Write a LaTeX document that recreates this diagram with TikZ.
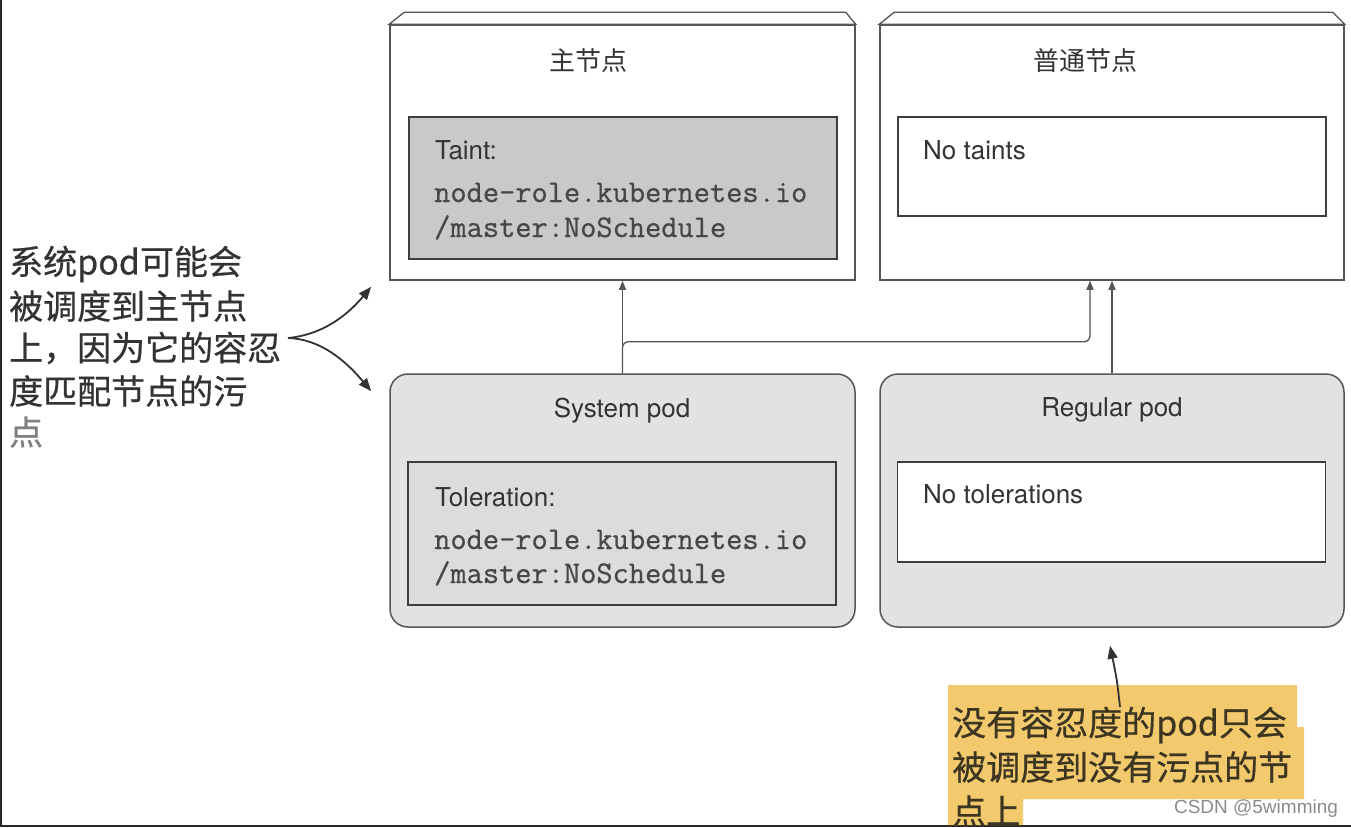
\documentclass[tikz,border=0pt]{standalone}
\usepackage{fontspec}
\setmainfont{TeX Gyre Heros}
\newfontfamily\cjk{Noto Sans CJK SC}
\newfontfamily\cjkb{Noto Sans CJK SC}[FakeBold=0.6]
\newfontfamily\monob{Latin Modern Mono}[FakeBold=0.7]
\newfontfamily\wmfont{Liberation Sans}
\usetikzlibrary{arrows.meta,calc}
\definecolor{boxc}{HTML}{555555}
\definecolor{innerc}{HTML}{3E3E3E}
\definecolor{textc}{HTML}{333333}
\definecolor{notec}{HTML}{333333}
\definecolor{taintfill}{HTML}{C9C9C9}
\definecolor{podfill}{HTML}{E2E2E2}
\definecolor{tolfill}{HTML}{DCDCDC}
\definecolor{hlc}{HTML}{F2C96C}
\definecolor{hltext}{HTML}{3B3522}
\definecolor{connc}{HTML}{555555}
\begin{document}
\begin{tikzpicture}[x=1pt,y=-1pt,
  outerbox/.style={draw=boxc, line width=1.5pt, fill=white, minimum width=465pt, minimum height=255pt, inner sep=0pt},
  podbox/.style={draw=boxc, line width=1.5pt, fill=podfill, rounded corners=18pt, minimum width=465pt, minimum height=253pt, inner sep=0pt},
  innerbox/.style={draw=innerc, line width=1.8pt, minimum width=428pt, inner sep=0pt},
  lbl/.style={inner sep=0pt, text=textc, font=\fontsize{26}{30}\selectfont},
  mono/.style={inner sep=0pt, text=textc!90, font=\monob\fontsize{31.5}{34}\selectfont},
  cjktitle/.style={inner sep=0pt, text=textc, font=\cjk\fontsize{26}{30}\selectfont},
  notetext/.style={inner sep=0pt, anchor=west, text=notec, font=\cjkb\fontsize{34}{42}\selectfont},
  hltextstyle/.style={inner sep=0pt, anchor=west, text=hltext, font=\cjkb\fontsize{34}{42}\selectfont},
  conn/.style={draw=connc, line width=1.3pt, -{Triangle[length=9pt,width=7pt]}},
  notearr/.style={draw=textc, line width=1.8pt, -{Triangle[length=13pt,width=10pt]}}
]
\useasboundingbox (0,0) rectangle (1351,827);
\fill[white] (0,0) rectangle (1351,827);
% screenshot edges
\fill[black!85] (0,0) rectangle (2,827);
\fill[black!85] (0,825) rectangle (1351,827);

% master node
\node[outerbox] (master) at (622.5,152.5) {};
\draw[boxc, line width=1.3pt, fill=white] (master.north west) -- ++(15,-12) -- ($(master.north east)+(-10,-12)$) -- (master.north east) -- cycle;
\node[innerbox, fill=taintfill, minimum height=142pt] (masterin) at (623,188) {};
\node[cjktitle] (mastert) at (588,61) {主节点};
\node[lbl, anchor=base west] (taint) at (435,159) {Taint:};
\node[mono, anchor=base west] (taint1) at (434,202) {node-role.kubernetes.io};
\node[mono, anchor=base west] (taint2) at (434,237) {/master:NoSchedule};

% worker node
\node[outerbox, minimum width=464pt] (worker) at (1112,152.5) {};
\draw[boxc, line width=1.3pt, fill=white] (worker.north west) -- ++(15,-12) -- ($(worker.north east)+(-12,-12)$) -- (worker.north east) -- cycle;
\node[innerbox, fill=white, minimum height=99pt] (workerin) at (1112,166.5) {};
\node[cjktitle] (workert) at (1085,61) {普通节点};
\node[lbl, anchor=base west] (notaints) at (923,159) {No taints};

% system pod
\node[podbox] (syspod) at (622.5,500.5) {};
\node[innerbox, fill=tolfill, minimum height=143pt] (syspodin) at (622,533.5) {};
\node[lbl, anchor=base] (syst) at (622,417) {System pod};
\node[lbl, anchor=base west] (tol) at (435,506) {Toleration:};
\node[mono, anchor=base west] (tol1) at (434,549) {node-role.kubernetes.io};
\node[mono, anchor=base west] (tol2) at (434,583) {/master:NoSchedule};

% regular pod
\node[podbox, minimum width=464pt] (regpod) at (1112,500.5) {};
\node[innerbox, fill=white, minimum height=100pt] (regpodin) at (1111.5,512) {};
\node[lbl, anchor=base] (regt) at (1112,416) {Regular pod};
\node[lbl, anchor=base west] (notol) at (923,503) {No tolerations};

% connectors
\draw[conn] (syspod.north) -- (master.south);
\draw[conn, rounded corners=6pt] (syspod.north) |- ($(worker.south)+(-22,61)$) -- ($(worker.south)+(-22,0)$);
\draw[conn] (regpod.north) -- (worker.south);

% left annotation
\node[notetext] (n1a) at (9,264) {系统pod可能会};
\node[notetext] (n1b) at (9,306) {被调度到主节点};
\node[notetext] (n1c) at (9,348) {上，因为它的容忍};
\node[notetext] (n1d) at (9,391) {度匹配节点的污};
\node[notetext, text=black!50] (n1e) at (9,432) {点};
\coordinate (n1s) at (288,338);
\draw[notearr] (n1s) .. controls (320,335) and (345,318) .. ($(master.south west)+(-18,6)$);
\draw[notearr] (n1s) .. controls (320,339) and (345,360) .. ($(syspod.north west)+(-18,18)$);

% bottom annotation
\fill[hlc] (948,685) -- (1297,685) -- (1297,727) -- (1304,727) -- (1304,799) -- (1023,799) -- (1023,825) -- (948,825) -- cycle;
\node[hltextstyle] (n2a) at (952,725) {没有容忍度的pod只会};
\node[hltextstyle] (n2b) at (952,767) {被调度到没有污点的节};
\node[hltextstyle] (n2c) at (952,811) {点上};
\coordinate (n2s) at (1120,707);
\draw[notearr] (n2s) .. controls (1117,680) .. ($(regpod.south)+(-2,18)$);

% watermark
\node[inner sep=0pt, anchor=base, text=black!45, font=\wmfont\fontsize{19}{22}\selectfont] (wm) at (1256,813) {CSDN @5wimming};
\end{tikzpicture}
\end{document}
